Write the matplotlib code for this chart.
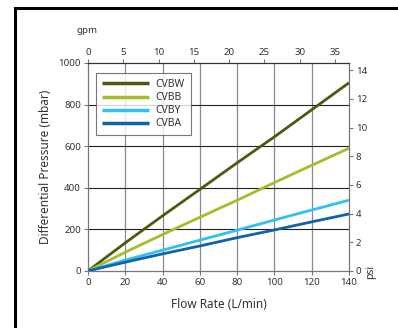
import numpy as np
import matplotlib.pyplot as plt
from matplotlib.lines import Line2D

# flow rate (L/min) and differential pressure (mbar)
flow = [0, 20, 40, 60, 80, 100, 120, 140]
cvbw = [0, 135, 265, 392, 520, 645, 775, 905]
cvbb = [0, 90, 175, 258, 340, 425, 508, 590]
cvby = [0, 52, 100, 148, 196, 245, 293, 340]
cvba = [0, 42, 82, 120, 160, 197, 236, 274]

series = [('CVBW', cvbw, '#4a5a10'),
          ('CVBB', cvbb, '#a5bd2a'),
          ('CVBY', cvby, '#2fc1f1'),
          ('CVBA', cvba, '#1261ad')]

x_ticks = [0, 20, 40, 60, 80, 100, 120, 140]
y_ticks = [0, 200, 400, 600, 800, 1000]
gpm_ticks = [0, 5, 10, 15, 20, 25, 30, 35]
psi_ticks = [0, 2, 4, 6, 8, 10, 12, 14]

LPM_PER_GPM = 3.78541
MBAR_PER_PSI = 68.9476

plt.rcParams['font.family'] = ['Noto Sans', 'DejaVu Sans']
txt = '#333333'
spine_c = '#777777'

fig = plt.figure(figsize=(3.98, 3.28), dpi=100)

# outer frame (left and top edges only)
fig.add_artist(Line2D([0.037, 0.037], [0, 0.975], color='black', lw=2.2,
                      transform=fig.transFigure))
fig.add_artist(Line2D([0.037, 1.0], [0.975, 0.975], color='black', lw=2.2,
                      transform=fig.transFigure))

ax = fig.add_axes([0.221, 0.174, 0.656, 0.634])

for x in x_ticks[1:-1]:
    ax.axvline(x, color='#8a8a8a', lw=0.9, zorder=1)
for y in y_ticks[1:-1]:
    ax.axhline(y, color='#222222', lw=0.8, zorder=1)

for name, vals, col in series:
    ax.plot(flow, vals, color=col, lw=2.0, label=name, zorder=3,
            solid_capstyle='butt')

ax.set_xlim(0, 140)
ax.set_ylim(0, 1000)
ax.set_xticks(x_ticks)
ax.set_yticks(y_ticks)
ax.tick_params(labelsize=7, colors=spine_c, labelcolor=txt, length=3, width=0.8, pad=2)
for s in ax.spines.values():
    s.set_color(spine_c)
    s.set_linewidth(0.9)
ax.spines['top'].set_color('#333333')

ax.set_xlabel('Flow Rate (L/min)', fontsize=8.5, color=txt, labelpad=8)
ax.set_ylabel('Differential Pressure (mbar)', fontsize=8.5, color=txt, labelpad=5)

# top axis: gpm
axt = ax.secondary_xaxis('top', functions=(lambda v: v / LPM_PER_GPM,
                                           lambda v: v * LPM_PER_GPM))
axt.set_xticks(gpm_ticks)
axt.tick_params(labelsize=7, colors=spine_c, labelcolor=txt, length=3, width=0.8, pad=1.5)
axt.spines['top'].set_visible(False)
fig.text(0.218, 0.908, 'gpm', fontsize=7, color=txt, ha='center', va='center')

# right axis: psi
axr = ax.secondary_yaxis('right', functions=(lambda v: v / MBAR_PER_PSI,
                                             lambda v: v * MBAR_PER_PSI))
axr.set_yticks(psi_ticks)
axr.tick_params(labelsize=7, colors=spine_c, labelcolor=txt, length=3, width=0.8, pad=2)
axr.spines['right'].set_visible(False)
fig.text(0.932, 0.172, 'psi', fontsize=7.5, color=txt, rotation=90,
         ha='center', va='center')

leg = ax.legend(loc='upper left', bbox_to_anchor=(0.03, 0.95), fontsize=7.5,
                frameon=True, fancybox=False, handlelength=4.6, handletextpad=0.6,
                labelspacing=0.2, borderpad=0.55, borderaxespad=0)
leg.get_frame().set_edgecolor('#555555')
leg.get_frame().set_linewidth(0.8)
for t in leg.get_texts():
    t.set_color(txt)
for h in leg.legend_handles:
    h.set_linewidth(2.5)

fig.savefig('out.png', dpi=100)
